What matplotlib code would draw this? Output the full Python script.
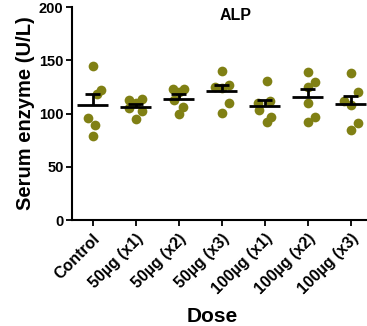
import numpy as np
import matplotlib
matplotlib.use("Agg")
import matplotlib.pyplot as plt

plt.rcParams['font.family'] = ['Liberation Sans', 'DejaVu Sans']
plt.rcParams['font.weight'] = 'bold'

categories = ["Control", "50µg (x1)", "50µg (x2)", "50µg (x3)",
              "100µg (x1)", "100µg (x2)", "100µg (x3)"]
values = [
    [145, 122, 118, 96, 89, 79],
    [113, 114, 110, 105, 102, 95],
    [123, 123, 120, 113, 106, 100],
    [140, 127, 125, 124, 110, 101],
    [131, 112, 110, 103, 97, 92],
    [139.5, 129.8, 124.6, 109.6, 96.4, 92.3],
    [138, 120, 112, 108, 91, 85],
]
jitter = [
    [0.0, 0.2, 0.1, -0.1, 0.05, 0.0],
    [-0.15, 0.15, 0.0, -0.15, 0.15, 0.0],
    [-0.12, 0.12, 0.0, -0.1, 0.1, 0.0],
    [0.0, 0.18, -0.15, 0.0, 0.18, 0.0],
    [0.05, 0.12, -0.15, -0.12, 0.15, 0.05],
    [0.0, 0.16, 0.0, 0.0, 0.16, 0.0],
    [0.0, 0.18, -0.15, 0.0, 0.18, 0.0],
]

fig = plt.figure(figsize=(3.67, 3.26), dpi=100)
ax = fig.add_axes([0.196, 0.325, 0.804, 0.653])

dot = '#808014'
for i, (vals, jit) in enumerate(zip(values, jitter)):
    v = np.array(vals, dtype=float)
    x = i + np.array(jit)
    ax.plot(x, v, 'o', color=dot, markersize=7, markeredgewidth=0, zorder=2)
    m = v.mean()
    sem = v.std(ddof=1) / np.sqrt(len(v))
    ax.hlines(m, i - 0.36, i + 0.36, color='black', lw=2, zorder=3)
    ax.vlines(i, m, m + sem, color='black', lw=2, zorder=3)
    ax.hlines(m + sem, i - 0.17, i + 0.17, color='black', lw=2, zorder=3)

ax.set_xlim(-0.48, 6.38)
ax.set_ylim(0, 200)
ax.set_yticks([0, 50, 100, 150, 200])
ax.set_xticks(range(len(categories)))
ax.set_xticklabels(categories, rotation=45, ha='right', rotation_mode='anchor',
                   fontsize=11.5, fontweight='bold')
for lab in ax.get_yticklabels():
    lab.set_fontsize(10.5)
    lab.set_fontweight('bold')
ax.tick_params(axis='both', direction='out', length=4, width=1.3, pad=2)
ax.tick_params(axis='x', pad=4)
for s in ['top', 'right']:
    ax.spines[s].set_visible(False)
for s in ['left', 'bottom']:
    ax.spines[s].set_linewidth(1.5)

ax.set_ylabel("Serum enzyme (U/L)", fontsize=14.5, fontweight='bold', labelpad=3)
fig.text(212 / 367, 1 - 317 / 326, "Dose", ha='center', va='center',
         fontsize=15, fontweight='bold')
ax.text(0.553, 0.96, "ALP", transform=ax.transAxes, ha='center', va='center',
        fontsize=11.5, fontweight='bold')

fig.savefig("out.png", dpi=100)
